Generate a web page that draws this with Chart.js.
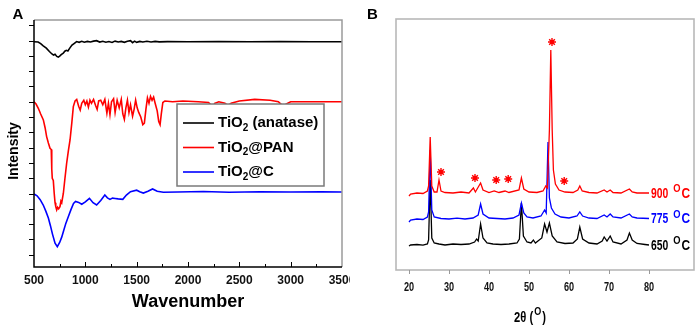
<!DOCTYPE html>
<html>
<head>
<meta charset="utf-8">
<script src="https://cdn.jsdelivr.net/npm/chart.js@4.4.1/dist/chart.umd.min.js"></script>
<style>
  html, body { margin: 0; padding: 0; background: #fff; }
  #wrap { position: relative; width: 696px; height: 328px; }
  canvas { position: absolute; top: 0; }
</style>
</head>
<body>
<div id="wrap">
  <canvas id="chartA" width="350" height="328" style="left:0"></canvas>
  <canvas id="chartB" width="346" height="328" style="left:350px"></canvas>
</div>
<script>
// ---- Panel A: FTIR (wavenumber, intensity a.u.) ----
const sampleNames = ['TiO2 (anatase)', 'TiO2@PAN', 'TiO2@C'];
const sampleColors = ['#000000', '#ff0000', '#0000ff'];
const wavenumberTicks = [500, 1000, 1500, 2000, 2500, 3000, 3500];

const ftirAnatase = [
  [500,13.92],[540,13.9],[565,13.8],[590,13.65],[620,13.5],[650,13.28],[675,13.12],[690,13.05],
  [705,13.1],[722,12.96],[737,12.92],[750,12.98],[765,13.08],[785,13.17],[800,13.3],[815,13.36],
  [830,13.32],[850,13.52],[870,13.7],[890,13.8],[915,13.93],[940,13.88],[965,13.95],[990,13.89],
  [1020,13.94],[1050,13.9],[1080,13.96],[1110,13.99],[1140,13.9],[1170,13.95],[1200,13.89],
  [1230,13.93],[1260,13.87],[1290,13.96],[1320,13.9],[1350,13.94],[1380,13.88],[1410,13.95],
  [1440,13.99],[1460,13.86],[1480,13.96],[1500,13.88],[1530,13.94],[1560,13.9],[1600,13.95],
  [1640,13.9],[1680,13.94],[1720,13.91],[1800,13.93],[2000,13.92],[2300,13.93],[2600,13.92],
  [2900,13.93],[3200,13.92],[3500,13.92]
];
const ftirPan = [
  [500,10.0],[520,9.85],[542,9.57],[565,9.2],[591,8.81],[608,8.3],[623,7.72],[640,7.3],[656,6.96],
  [668,6.88],[673,5.6],[678,5.0],[688,4.85],[697,4.0],[705,3.4],[712,3.15],[721,2.93],[730,3.1],
  [740,3.0],[753,3.14],[762,3.5],[770,3.4],[786,4.02],[800,4.9],[818,5.98],[835,6.8],[851,7.5],
  [868,8.6],[883,9.68],[900,10.05],[916,10.15],[935,9.7],[950,9.45],[965,9.9],[985,10.1],[1000,9.8],
  [1015,10.05],[1030,9.65],[1045,10.1],[1060,9.9],[1080,10.15],[1100,9.75],[1115,9.5],[1130,10.05],
  [1150,10.1],[1170,9.8],[1190,10.15],[1210,9.25],[1225,9.9],[1240,9.15],[1255,10.0],[1275,10.2],
  [1290,9.3],[1310,10.1],[1330,9.6],[1350,10.15],[1365,9.2],[1380,8.85],[1395,9.6],[1410,10.1],
  [1425,9.3],[1440,9.8],[1460,9.05],[1475,9.5],[1490,10.1],[1505,9.6],[1520,9.3],[1540,9.0],
  [1560,8.5],[1575,8.6],[1590,9.5],[1605,10.25],[1620,9.9],[1635,10.35],[1650,10.1],[1665,10.3],
  [1680,9.9],[1700,9.4],[1715,8.7],[1728,8.5],[1740,9.2],[1755,9.95],[1775,10.05],[1850,10.0],
  [1950,10.05],[2100,10.0],[2200,9.95],[2230,9.75],[2245,9.65],[2260,9.9],[2300,10.0],[2360,9.9],
  [2390,9.75],[2420,9.9],[2500,10.05],[2650,10.15],[2800,10.1],[2880,10.0],[2920,9.75],[2935,9.55],
  [2955,9.85],[3000,10.0],[3200,10.0],[3500,10.0]
];
const ftirCarbon = [
  [500,3.97],[530,3.85],[560,3.6],[590,3.25],[615,2.85],[640,2.4],[660,1.9],[680,1.35],[705,0.75],
  [727,0.53],[750,0.8],[770,1.15],[790,1.6],[810,2.05],[835,2.5],[860,2.95],[885,3.35],[905,3.48],
  [935,3.42],[965,3.3],[1000,3.45],[1040,3.69],[1075,3.4],[1110,3.25],[1150,3.55],[1190,3.9],
  [1215,3.72],[1240,3.62],[1265,3.7],[1290,3.68],[1320,3.65],[1365,3.62],[1400,3.9],[1440,4.12],
  [1500,4.22],[1530,4.12],[1565,4.03],[1610,4.15],[1655,4.3],[1700,4.15],[1760,4.08],[1900,4.1],
  [2150,4.13],[2400,4.08],[2700,4.12],[3000,4.1],[3300,4.11],[3500,4.1]
];

// ---- Panel B: XRD (2theta, intensity a.u.) ----
const tempLabels = ['900', '775', '650'];
const tempColors = ['#ff0000', '#0000ff', '#000000'];
const twoThetaTicks = [20, 30, 40, 50, 60, 70, 80];

const xrd650 = [
  [20,24],[20.4,25],[22,25.5],[23.5,24.8],[24.6,26],[24.9,30],[25.3,90],[25.7,32],[26.3,27],[27.5,26],
  [29,25],[31,26],[33,25.5],[35,26],[36.4,28],[36.9,31],[37.3,29],[37.9,46],[38.5,32],[39.5,27],
  [41,26],[43,25.5],[45,26],[47,27],[47.6,31],[48.1,67],[48.6,34],[49.5,28],[50.5,27],[51.1,30],
  [51.6,27],[53.2,32],[53.9,46],[54.5,38],[55.1,47],[55.8,34],[57,28],[59,26.5],[61,27],[62.1,31],
  [62.7,43],[63.4,31],[65,27],[67,26],[68.3,29],[68.8,33],[69.5,29],[70.3,34],[71,28],[73,26],
  [74.5,30],[75.1,37],[75.8,30],[77,26.5],[79,25.5],[80,25]
];
const xrd775 = [
  [20,48],[20.4,50],[22,51],[23.5,50.5],[24.6,53],[24.9,58],[25.3,120],[25.7,60],[26.3,53],[28,51.5],
  [30,51],[32,51.8],[34,51],[36,52],[37.3,55],[37.9,66],[38.5,56],[40,52],[42,51.5],[44,51],[46,52],
  [47.5,55],[48.1,67],[48.7,57],[49.5,53],[51,52],[53,54],[53.9,60],[54.3,57],[54.75,128],[55.1,72],
  [55.6,62],[56.5,56],[58,53],[60,52],[62,54],[62.7,58],[63.4,54],[65,52],[67,51.5],[68.8,55],
  [69.5,53],[70.3,56],[71,53],[73,52],[75.1,56],[75.8,53],[77,52],[80,51.5]
];
const xrd900 = [
  [20,74],[20.4,76],[22,77],[23.5,76.5],[24.6,79],[24.9,84],[25.3,133],[25.7,84],[26.3,78],[27,78],
  [27.5,90],[28,79],[29,77.5],[31,77],[33,78],[35,77],[36.1,82],[36.6,78],[37.9,87],[38.5,80],
  [40,77.5],[41.3,79],[42.5,77.5],[44,79],[45,77.5],[47.5,80],[48.1,92],[48.7,81],[50,78],[52,77.5],
  [53.5,79],[54.2,84],[54.6,82],[55.1,140],[55.45,220],[55.8,140],[56.1,100],[56.6,86],[57.5,80],
  [59,78],[61,77.5],[62.2,80],[62.7,84],[63.3,79],[65,77.5],[67,77],[68.8,80],[69.5,78],[70.3,80],
  [71,77.5],[73,77],[75.1,81],[75.8,78],[77,77],[80,77]
];
const rutileMarks = [[28,98],[36.5,92],[41.8,90],[44.8,91],[55.75,228],[58.8,89]];

// draw a run of text pieces, each with its own font, vertical shift and horizontal squeeze
function measureParts(ctx, parts) {
  return parts.reduce((w, p) => {
    ctx.font = p.font;
    return w + ctx.measureText(p.t).width * (p.sx || 1) + (p.gap || 0);
  }, 0);
}
function drawParts(ctx, parts, x, y) {
  let cx = x;
  parts.forEach(p => {
    const sx = p.sx || 1;
    ctx.font = p.font;
    ctx.save();
    ctx.translate(cx, y + (p.dy || 0));
    ctx.scale(sx, 1);
    ctx.fillText(p.t, 0, 0);
    ctx.restore();
    cx += ctx.measureText(p.t).width * sx + (p.gap || 0);
  });
  return cx - x;
}

function subParts(name, size) {
  const m = name.match(/^(TiO)(2)(.*)$/);
  const main = 'bold ' + size + 'px Arial, "Liberation Sans"';
  const sub = 'bold ' + Math.round(size * 0.68) + 'px Arial, "Liberation Sans"';
  return [{ t: m[1], font: main }, { t: m[2], font: sub, dy: 5 }, { t: m[3], font: main }];
}

const panelA = {
  id: 'panelA',
  afterDatasetsDraw(chart) {
    const { ctx, chartArea: a, scales: { x, y } } = chart;
    ctx.save();
    ctx.lineWidth = 1.5;
    ctx.strokeStyle = '#9a9a9a';
    ctx.beginPath();
    ctx.moveTo(a.left, a.top); ctx.lineTo(a.right, a.top); ctx.lineTo(a.right, a.bottom);
    ctx.stroke();
    ctx.strokeStyle = '#000';
    ctx.beginPath();
    ctx.moveTo(a.left, a.top); ctx.lineTo(a.left, a.bottom); ctx.lineTo(a.right, a.bottom);
    ctx.stroke();

    // outward ticks on the intensity axis, inward ticks on the wavenumber axis
    ctx.lineWidth = 1;
    ctx.beginPath();
    for (let v = 0; v <= 15; v++) {
      const py = Math.round(y.getPixelForValue(v)) + 0.5;
      ctx.moveTo(a.left - 5, py); ctx.lineTo(a.left, py);
    }
    for (let v = 750; v < 3500; v += 250) {
      const px = Math.round(x.getPixelForValue(v)) + 0.5;
      ctx.moveTo(px, a.bottom); ctx.lineTo(px, a.bottom - (v % 500 === 0 ? 5 : 3));
    }
    ctx.stroke();

    // legend box
    const bx = 177, by = 104, bw = 147, bh = 82;
    ctx.fillStyle = '#fff';
    ctx.fillRect(bx, by, bw, bh);
    ctx.strokeStyle = '#7a7a7a';
    ctx.lineWidth = 1.5;
    ctx.strokeRect(bx, by, bw, bh);
    const rows = [123, 147.5, 172];
    chart.data.datasets.forEach((ds, i) => {
      ctx.strokeStyle = ds.borderColor;
      ctx.lineWidth = 1.6;
      ctx.beginPath();
      ctx.moveTo(183, rows[i]); ctx.lineTo(214, rows[i]);
      ctx.stroke();
      ctx.fillStyle = '#000';
      ctx.textBaseline = 'middle';
      ctx.textAlign = 'left';
      drawParts(ctx, subParts(ds.label, 15), 218, rows[i]);
    });
    ctx.restore();
  },
  afterDraw(chart) {
    const { ctx } = chart;
    ctx.save();
    ctx.fillStyle = '#000';
    ctx.textAlign = 'center';
    ctx.textBaseline = 'middle';
    ctx.font = 'bold 15px Arial, "Liberation Sans"';
    ctx.fillText('A', 18, 15);
    ctx.font = 'bold 18px Arial, "Liberation Sans"';
    ctx.fillText('Wavenumber', 188, 302);
    ctx.translate(14, 151);
    ctx.rotate(-Math.PI / 2);
    ctx.font = 'bold 14px Arial, "Liberation Sans"';
    ctx.fillText('Intensity', 0, 0);
    ctx.restore();
  }
};

const squeeze = 0.74;
const panelB = {
  id: 'panelB',
  afterDatasetsDraw(chart) {
    const { ctx, chartArea: a, scales: { x, y } } = chart;
    ctx.save();
    ctx.strokeStyle = '#b8b8b8';
    ctx.lineWidth = 1.6;
    ctx.strokeRect(a.left, a.top, a.right - a.left, a.bottom - a.top);
    ctx.lineWidth = 1;
    ctx.strokeStyle = '#999';
    ctx.beginPath();
    twoThetaTicks.forEach(v => {
      const px = Math.round(x.getPixelForValue(v)) + 0.5;
      ctx.moveTo(px, a.bottom); ctx.lineTo(px, a.bottom + 4);
    });
    ctx.stroke();

    // tick labels, condensed like the original
    ctx.fillStyle = '#111';
    ctx.textBaseline = 'middle';
    ctx.textAlign = 'left';
    twoThetaTicks.forEach(v => {
      const parts = [{ t: String(v), font: 'bold 12px Arial, "Liberation Sans"', sx: 0.76 }];
      const w = measureParts(ctx, parts);
      drawParts(ctx, parts, x.getPixelForValue(v) - w / 2, a.bottom + 18);
    });

    // temperature labels at the end of each pattern
    const ends = [xrd900, xrd775, xrd650];
    ends.forEach((d, i) => {
      const last = d[d.length - 1];
      const px = x.getPixelForValue(last[0]) + 2;
      const py = y.getPixelForValue(last[1]) + 1;
      ctx.fillStyle = tempColors[i];
      drawParts(ctx, [
        { t: tempLabels[i], font: 'bold 14px Arial, "Liberation Sans"', sx: squeeze, gap: 5 },
        { t: 'O', font: 'bold 11px Arial, "Liberation Sans"', dy: -5, sx: 0.85, gap: 1 },
        { t: 'C', font: 'bold 14px Arial, "Liberation Sans"', sx: 0.85 }
      ], px, py);
    });
    ctx.restore();
  },
  afterDraw(chart) {
    const { ctx, chartArea: a } = chart;
    ctx.save();
    ctx.fillStyle = '#000';
    ctx.textBaseline = 'middle';
    ctx.textAlign = 'left';
    ctx.font = 'bold 15px Arial, "Liberation Sans"';
    ctx.fillText('B', 17, 15);
    const t = 'bold 14px Arial, "Liberation Sans"';
    const parts = [
      { t: '2\u03b8 (', font: t, sx: 0.8, gap: 1 },
      { t: 'O', font: 'bold 10px Arial, "Liberation Sans"', dy: -6, sx: 0.9, gap: 1 },
      { t: ')', font: t, sx: 0.8 }
    ];
    drawParts(ctx, parts, 180 - measureParts(ctx, parts) / 2, 318);
    ctx.restore();
  }
};

const tickFontA = { family: 'Arial, "Liberation Sans"', weight: 'bold', size: 12 };
const noPad = s => { s.paddingLeft = 0; s.paddingRight = 0; s.paddingTop = 0; s.paddingBottom = 0; };

new Chart(document.getElementById('chartA'), {
  type: 'line',
  data: {
    datasets: [ftirAnatase, ftirPan, ftirCarbon].map((d, i) => ({
      label: sampleNames[i],
      data: d,
      borderColor: sampleColors[i],
      borderWidth: 1.6,
      pointRadius: 0,
      tension: 0,
      fill: false,
      order: i === 1 ? 0 : i + 1
    }))
  },
  options: {
    responsive: false,
    animation: false,
    devicePixelRatio: 1,
    layout: { padding: { left: 0, right: 8, top: 20, bottom: 0 }, autoPadding: false },
    plugins: { legend: { display: false }, tooltip: { enabled: false } },
    scales: {
      x: {
        type: 'linear', min: 500, max: 3500,
        afterFit: s => { s.height = 61; noPad(s); },
        afterBuildTicks: s => { s.ticks = wavenumberTicks.map(v => ({ value: v })); },
        grid: { display: false, drawTicks: false },
        border: { display: false },
        ticks: { padding: 6, font: tickFontA, color: '#111', maxRotation: 0, autoSkip: false,
                 callback: v => String(v) }
      },
      y: {
        min: -0.8, max: 15.34,
        afterFit: s => { s.width = 34; noPad(s); },
        grid: { display: false, drawTicks: false },
        border: { display: false },
        ticks: { display: false }
      }
    }
  },
  plugins: [panelA]
});

new Chart(document.getElementById('chartB'), {
  type: 'line',
  data: {
    datasets: [
      { label: '650', data: xrd650, borderColor: '#000', borderWidth: 1.3, pointRadius: 0, tension: 0, order: 3 },
      { label: '775', data: xrd775, borderColor: '#0000ff', borderWidth: 1.3, pointRadius: 0, tension: 0, order: 2 },
      { label: '900', data: xrd900, borderColor: '#ff0000', borderWidth: 1.3, pointRadius: 0, tension: 0, order: 1 },
      { label: 'rutile', data: rutileMarks, showLine: false, pointStyle: 'star', pointRadius: 4,
        borderColor: '#ff0000', backgroundColor: '#ff0000', pointBorderWidth: 1.4, order: 0 }
    ]
  },
  options: {
    responsive: false,
    animation: false,
    devicePixelRatio: 1,
    layout: { padding: { left: 46, right: 2, top: 19, bottom: 0 }, autoPadding: false },
    plugins: { legend: { display: false }, tooltip: { enabled: false } },
    scales: {
      x: {
        type: 'linear', min: 16.75, max: 91.25,
        afterFit: s => { s.height = 58; noPad(s); },
        afterBuildTicks: s => { s.ticks = twoThetaTicks.map(v => ({ value: v })); },
        grid: { display: false, drawTicks: false },
        border: { display: false },
        ticks: { display: false }
      },
      y: { display: false, min: 0, max: 251 }
    }
  },
  plugins: [panelB]
});
</script>
</body>
</html>
